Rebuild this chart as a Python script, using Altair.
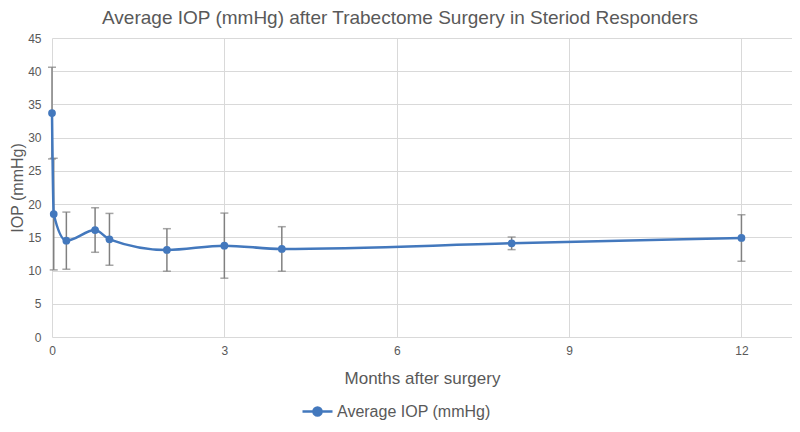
import altair as alt
import pandas as pd

# Data
months = [0, 0.03, 0.25, 0.75, 1, 2, 3, 4, 8, 12]
iop_mean = [33.7, 18.5, 14.5, 16.1, 14.7, 13.1, 13.75, 13.25, 14.1, 14.9]
iop_sd = [6.9, 8.4, 4.3, 3.35, 3.9, 3.2, 4.9, 3.35, 0.95, 3.5]
series_name = "Average IOP (mmHg)"
x_ticks = [0, 3, 6, 9, 12]
y_ticks = [0, 5, 10, 15, 20, 25, 30, 35, 40, 45]

df = pd.DataFrame({
    "month": months,
    "iop": iop_mean,
    "lo": [m - s for m, s in zip(iop_mean, iop_sd)],
    "hi": [m + s for m, s in zip(iop_mean, iop_sd)],
    "series": [series_name] * len(months),
})

BLUE = "#4378bd"
GRAY_TXT = "#595959"
FONT = "Liberation Sans"

x_enc = alt.X("month:Q",
              scale=alt.Scale(domain=[0, 12.88], nice=False, zero=False),
              axis=alt.Axis(values=x_ticks, title="Months after surgery",
                            grid=True, gridColor="#d9d9d9", domain=False, ticks=False,
                            labelFontSize=12, labelColor=GRAY_TXT, labelFont=FONT, labelPadding=8,
                            labelFlush=False,
                            titleFontSize=17, titleColor=GRAY_TXT, titleFont=FONT,
                            titleFontWeight="normal", titlePadding=14))
y_axis = alt.Axis(values=y_ticks, title="IOP (mmHg)",
                  grid=True, gridColor="#d9d9d9", domain=False, ticks=False,
                  labelFontSize=12, labelColor=GRAY_TXT, labelFont=FONT, labelPadding=11,
                  labelFlush=False,
                  titleFontSize=16, titleColor=GRAY_TXT, titleFont=FONT,
                  titleFontWeight="normal", titlePadding=2)
y_scale = alt.Scale(domain=[0, 45], nice=False)

base = alt.Chart(df)

errbars = base.mark_errorbar(ticks=alt.MarkConfig(size=8), color="#808080", thickness=1.5).encode(
    x=x_enc,
    y=alt.Y("lo:Q", scale=y_scale, axis=y_axis),
    y2="hi:Q",
)

legend_symbol = "M-1,0L1,0M-0.27,0A0.27,0.27,0,1,0,0.27,0A0.27,0.27,0,1,0,-0.27,0Z"

line = base.mark_line(interpolate="monotone", strokeWidth=2.5).encode(
    x=x_enc,
    y=alt.Y("iop:Q", scale=y_scale, axis=y_axis),
    color=alt.Color("series:N",
                    scale=alt.Scale(domain=[series_name], range=[BLUE]),
                    legend=alt.Legend(orient="none", legendX=249, legendY=357,
                                      direction="horizontal", title=None,
                                      symbolType=legend_symbol, symbolSize=900,
                                      symbolStrokeWidth=2.5, symbolFillColor=BLUE,
                                      labelFontSize=16, labelColor=GRAY_TXT,
                                      labelFont=FONT, labelOffset=3)),
)

points = base.mark_point(filled=True, size=60, opacity=1, color=BLUE).encode(
    x=x_enc,
    y=alt.Y("iop:Q", scale=y_scale, axis=y_axis),
)

chart = alt.layer(errbars, line, points).properties(
    width=740,
    height=299,
    padding={"left": 44, "top": 30, "right": 0, "bottom": 87},
    autosize=alt.AutoSizeParams(type="none"),
    title=alt.TitleParams("Average IOP (mmHg) after Trabectome Surgery in Steriod Responders",
                          fontSize=19, color=GRAY_TXT, font=FONT, fontWeight="normal",
                          anchor="middle", offset=4, dx=-22),
    background="white",
).configure_view(stroke=None)

chart.save("out.html", embed_options={"renderer": "svg", "actions": False})
